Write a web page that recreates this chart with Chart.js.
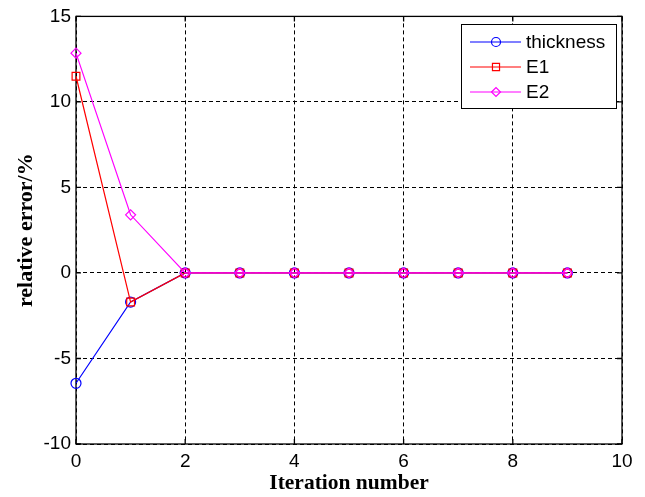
<!DOCTYPE html>
<html>
<head>
<meta charset="utf-8">
<script src="https://cdn.jsdelivr.net/npm/chart.js@4.4.1/dist/chart.umd.min.js"></script>
<style>
    html, body { margin: 0; padding: 0; background: #fff; }
    #wrap { width: 645px; height: 497px; }
</style>
</head>
<body>
<div id="wrap"><canvas id="errChart" width="645" height="497"></canvas></div>
<script>
// data
const iterations = [0, 1, 2, 3, 4, 5, 6, 7, 8, 9];
const thicknessErr = [-6.45, -1.7, 0, 0, 0, 0, 0, 0, 0, 0];
const e1Err = [11.5, -1.7, 0, 0, 0, 0, 0, 0, 0, 0];
const e2Err = [12.85, 3.4, 0, 0, 0, 0, 0, 0, 0, 0];
const xTicks = [0, 2, 4, 6, 8, 10];
const yTicks = [-10, -5, 0, 5, 10, 15];

const toPoints = (vals) => iterations.map((x, i) => ({ x: x, y: vals[i] }));

function makeSet(label, vals, color, style, radius, order) {
    return {
        label: label,
        data: toPoints(vals),
        order: order, // later series on top, like matlab
        borderColor: color,
        backgroundColor: 'rgba(0,0,0,0)',
        borderWidth: 1.2,
        pointStyle: style,
        pointRadius: radius,
        pointHoverRadius: radius,
        pointBorderWidth: 1.2,
        pointBorderColor: color,
        pointBackgroundColor: 'rgba(0,0,0,0)',
        tension: 0,
        clip: false
    };
}

// solid frame with inward ticks
const framePlugin = {
    id: 'frame',
    beforeDatasetsDraw(chart) {
        const { ctx, chartArea: a, scales } = chart;
        ctx.save();
        ctx.strokeStyle = '#000';
        ctx.lineWidth = 1.3;
        ctx.setLineDash([]);
        ctx.strokeRect(a.left, a.top, a.right - a.left, a.bottom - a.top);
        const tl = 5;
        ctx.beginPath();
        xTicks.forEach(v => {
            const px = scales.x.getPixelForValue(v);
            ctx.moveTo(px, a.bottom); ctx.lineTo(px, a.bottom - tl);
            ctx.moveTo(px, a.top); ctx.lineTo(px, a.top + tl);
        });
        yTicks.forEach(v => {
            const py = scales.y.getPixelForValue(v);
            ctx.moveTo(a.left, py); ctx.lineTo(a.left + tl, py);
            ctx.moveTo(a.right, py); ctx.lineTo(a.right - tl, py);
        });
        ctx.stroke();
        ctx.restore();
    }
};

// legend box inside the top right corner
const boxLegend = {
    id: 'boxLegend',
    afterDatasetsDraw(chart) {
        const { ctx } = chart;
        const bx = 461, by = 24, bw = 155, bh = 84;
        ctx.save();
        ctx.fillStyle = '#fff';
        ctx.fillRect(bx, by, bw, bh);
        ctx.strokeStyle = '#000';
        ctx.lineWidth = 1;
        ctx.strokeRect(bx + 0.5, by + 0.5, bw, bh);
        ctx.font = '19px "Liberation Sans", Arial, sans-serif';
        ctx.textBaseline = 'middle';
        chart.data.datasets.forEach((ds, i) => {
            const y = by + 18 + i * 25;
            ctx.strokeStyle = ds.borderColor;
            ctx.lineWidth = 1.2;
            ctx.beginPath();
            ctx.moveTo(470, y); ctx.lineTo(521, y);
            ctx.stroke();
            ctx.fillStyle = 'rgba(0,0,0,0)';
            Chart.helpers.drawPoint(ctx, {
                pointStyle: ds.pointStyle,
                radius: ds.pointRadius - 0.5,
                rotation: 0,
                borderWidth: 1.2
            }, 496, y);
            ctx.fillStyle = '#000';
            ctx.fillText(ds.label, 526, y + 1);
        });
        ctx.restore();
    }
};

const ctx = document.getElementById('errChart');
new Chart(ctx, {
    type: 'line',
    data: {
        datasets: [
            makeSet('thickness', thicknessErr, '#0000ff', 'circle', 5, 3),
            makeSet('E1', e1Err, '#ff0000', 'rect', 5.5, 2),
            makeSet('E2', e2Err, '#ff00ff', 'rectRot', 5, 1)
        ]
    },
    options: {
        responsive: false,
        animation: false,
        layout: { padding: { left: 0, top: 15, right: 23, bottom: 0 } },
        plugins: {
            legend: { display: false },
            tooltip: { enabled: false }
        },
        scales: {
            x: {
                type: 'linear',
                min: 0,
                max: 10,
                afterFit: (s) => { s.height = 53; },
                afterBuildTicks: (s) => { s.ticks = xTicks.map(v => ({ value: v })); },
                ticks: {
                    color: '#000',
                    padding: 6,
                    font: { family: '"Liberation Sans", Arial, sans-serif', size: 19 }
                },
                grid: { color: '#000', lineWidth: 1, drawTicks: false },
                border: { display: false, dash: [4, 3] },
                title: {
                    display: true,
                    text: 'Iteration number',
                    color: '#000',
                    padding: { top: 0, bottom: 1 },
                    font: { family: '"Liberation Serif", "Times New Roman", serif', size: 21.5, weight: 'bold' }
                }
            },
            y: {
                type: 'linear',
                min: -10,
                max: 15,
                afterFit: (s) => { s.width = 76; },
                afterBuildTicks: (s) => { s.ticks = yTicks.map(v => ({ value: v })); },
                ticks: {
                    color: '#000',
                    padding: 5,
                    font: { family: '"Liberation Sans", Arial, sans-serif', size: 19 }
                },
                grid: { color: '#000', lineWidth: 1, drawTicks: false },
                border: { display: false, dash: [4, 3] },
                title: {
                    display: true,
                    text: 'relative error/%',
                    color: '#000',
                    padding: { top: 13, bottom: 0 },
                    font: { family: '"Liberation Serif", "Times New Roman", serif', size: 22, weight: 'bold' }
                }
            }
        }
    },
    plugins: [framePlugin, boxLegend]
});
</script>
</body>
</html>
